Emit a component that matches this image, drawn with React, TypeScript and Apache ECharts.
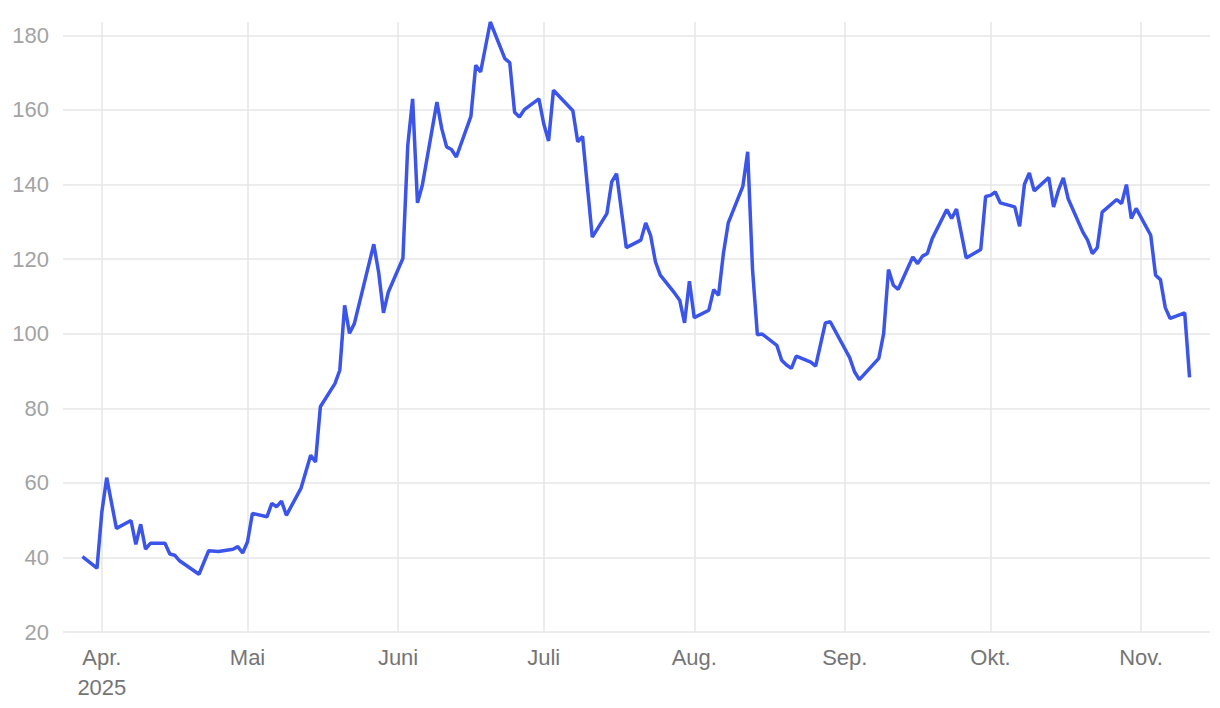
import React, { useEffect, useRef } from "react";
import * as echarts from "echarts";

const dates: string[] = [
  "2025-03-28", "2025-03-31", "2025-04-01", "2025-04-02", "2025-04-04", "2025-04-07", "2025-04-08", "2025-04-09",
  "2025-04-10", "2025-04-11", "2025-04-14", "2025-04-15", "2025-04-16", "2025-04-17", "2025-04-21", "2025-04-23",
  "2025-04-25", "2025-04-28", "2025-04-29", "2025-04-30", "2025-05-01", "2025-05-02", "2025-05-05", "2025-05-06",
  "2025-05-07", "2025-05-08", "2025-05-09", "2025-05-12", "2025-05-14", "2025-05-15", "2025-05-16", "2025-05-19",
  "2025-05-20", "2025-05-21", "2025-05-22", "2025-05-23", "2025-05-27", "2025-05-28", "2025-05-29", "2025-05-30",
  "2025-06-02", "2025-06-03", "2025-06-04", "2025-06-05", "2025-06-06", "2025-06-09", "2025-06-10", "2025-06-11",
  "2025-06-12", "2025-06-13", "2025-06-16", "2025-06-17", "2025-06-18", "2025-06-20", "2025-06-23", "2025-06-24",
  "2025-06-25", "2025-06-26", "2025-06-27", "2025-06-30", "2025-07-01", "2025-07-02", "2025-07-03", "2025-07-07",
  "2025-07-08", "2025-07-09", "2025-07-11", "2025-07-14", "2025-07-15", "2025-07-16", "2025-07-18", "2025-07-21",
  "2025-07-22", "2025-07-23", "2025-07-24", "2025-07-25", "2025-07-28", "2025-07-29", "2025-07-30", "2025-07-31",
  "2025-08-01", "2025-08-04", "2025-08-05", "2025-08-06", "2025-08-07", "2025-08-08", "2025-08-11", "2025-08-12",
  "2025-08-13", "2025-08-14", "2025-08-15", "2025-08-18", "2025-08-19", "2025-08-20", "2025-08-21", "2025-08-22",
  "2025-08-25", "2025-08-26", "2025-08-28", "2025-08-29", "2025-09-02", "2025-09-03", "2025-09-04", "2025-09-08",
  "2025-09-09", "2025-09-10", "2025-09-11", "2025-09-12", "2025-09-15", "2025-09-16", "2025-09-17", "2025-09-18",
  "2025-09-19", "2025-09-22", "2025-09-23", "2025-09-24", "2025-09-26", "2025-09-29", "2025-09-30", "2025-10-01",
  "2025-10-02", "2025-10-03", "2025-10-06", "2025-10-07", "2025-10-08", "2025-10-09", "2025-10-10", "2025-10-13",
  "2025-10-14", "2025-10-15", "2025-10-16", "2025-10-17", "2025-10-20", "2025-10-21", "2025-10-22", "2025-10-23",
  "2025-10-24", "2025-10-27", "2025-10-28", "2025-10-29", "2025-10-30", "2025-10-31", "2025-11-03", "2025-11-04",
  "2025-11-05", "2025-11-06", "2025-11-07", "2025-11-10", "2025-11-11",
];

const values: number[] = [
  40.2, 37.1, 52.2, 61.4, 47.8, 49.9, 43.5, 48.9,
  42.2, 43.8, 43.8, 40.9, 40.6, 39.1, 35.5, 41.8,
  41.6, 42.2, 42.9, 41.2, 44.2, 51.8, 50.9, 54.5,
  53.6, 55.1, 51.3, 58.5, 67.4, 65.6, 80.4, 86.6,
  90.2, 107.6, 100.1, 102.7, 124.0, 116.5, 105.6, 111.2,
  120.2, 150.5, 163.0, 135.1, 139.8, 162.1, 155.0, 150.1,
  149.4, 147.4, 158.3, 172.0, 170.2, 183.6, 173.8, 172.7,
  159.4, 158.1, 160.1, 163.0, 156.3, 151.7, 165.3, 159.8,
  151.5, 152.9, 125.9, 132.2, 140.7, 142.9, 123.1, 125.1,
  129.7, 126.4, 119.3, 115.7, 110.8, 109.0, 102.9, 114.1,
  104.3, 106.3, 111.8, 110.3, 121.5, 129.7, 139.5, 148.8,
  117.2, 99.7, 99.9, 96.9, 92.9, 91.6, 90.7, 94.0,
  92.4, 91.3, 102.9, 103.2, 93.6, 89.8, 87.7, 93.4,
  100.0, 117.2, 113.0, 111.9, 120.6, 118.8, 120.8, 121.5,
  125.5, 133.3, 130.9, 133.4, 120.3, 122.6, 136.8, 137.1,
  138.0, 135.1, 134.0, 128.8, 140.1, 143.1, 138.3, 141.9,
  134.0, 138.5, 141.8, 136.2, 127.3, 125.1, 121.5, 123.1,
  132.6, 136.0, 134.9, 140.0, 130.9, 133.6, 126.4, 115.7,
  114.5, 107.0, 104.1, 105.6, 88.3,
];

const monthNames: string[] = [
  "Jan.", "Feb.", "März", "Apr.", "Mai", "Juni", "Juli", "Aug.", "Sep.", "Okt.", "Nov.", "Dez.",
];
const yearLabel = "2025";

export default function App() {
  const ref = useRef<HTMLDivElement>(null);
  useEffect(() => {
    if (!ref.current) return;
    const chart = echarts.init(ref.current, undefined, { renderer: "svg" });
    const font = "'Liberation Sans', Arial, Helvetica, sans-serif";
    chart.setOption({
      animation: false,
      grid: { left: 63, right: 10, top: 22, bottom: 76, containLabel: false },
      xAxis: {
        type: "time",
        min: new Date(2025, 2, 24, 0).getTime(),
        max: new Date(2025, 10, 15, 5).getTime(),
        minInterval: 28 * 86400000,
        maxInterval: 31 * 86400000,
        axisLine: { show: false },
        axisTick: { show: false },
        splitLine: {
          show: true,
          showMinLine: false,
          showMaxLine: false,
          lineStyle: { color: "#e6e6e6", width: 1.5 },
        },
        axisLabel: {
          color: "#757575",
          fontSize: 22,
          fontFamily: font,
          lineHeight: 29.5,
          margin: 11,
          hideOverlap: false,
          showMinLabel: false,
          showMaxLabel: false,
          formatter: (val: number) => {
            const d = new Date(val);
            const m = d.getMonth();
            const name = monthNames[m];
            if (m === 3) return name + "\n" + yearLabel;
            return name;
          },
        },
      },
      yAxis: {
        type: "value",
        min: 20,
        max: 183.6,
        interval: 20,
        axisLine: { show: false },
        axisTick: { show: false },
        splitLine: {
          show: true,
          showMaxLine: false,
          lineStyle: { color: "#e6e6e6", width: 1.5 },
        },
        axisLabel: {
          color: "#a3a3a3",
          fontSize: 22,
          fontFamily: font,
          margin: 14,
          showMaxLabel: false,
          formatter: (v: number) => (v % 20 === 0 ? String(v) : ""),
        },
      },
      series: [
        {
          type: "line",
          data: dates.map((d, i) => [d, values[i]]),
          showSymbol: false,
          symbol: "none",
          lineStyle: { color: "#3b54ea", width: 3.5 },
          itemStyle: { color: "#3b54ea" },
        },
      ],
    });
    return () => chart.dispose();
  }, []);
  return (
    <div
      ref={ref}
      style={{ position: "fixed", left: 0, top: 0, width: 1220, height: 708, background: "#fff" }}
    />
  );
}
